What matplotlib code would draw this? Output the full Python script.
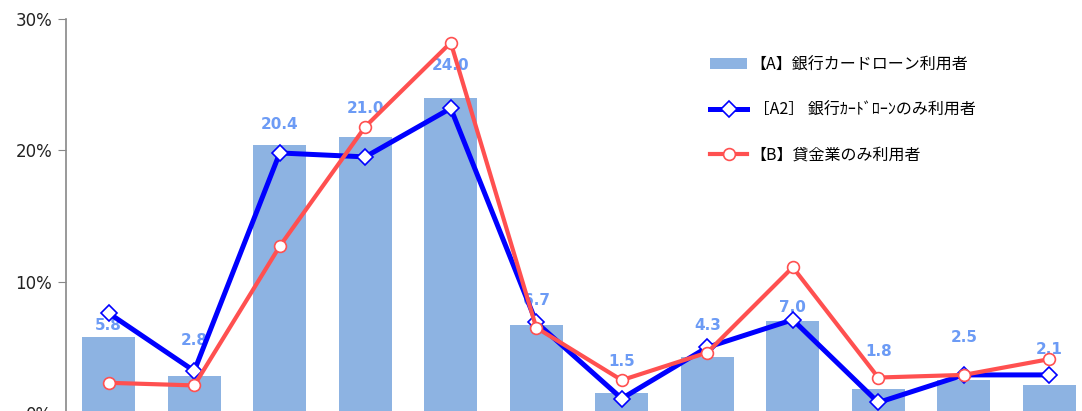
import matplotlib.pyplot as plt
import numpy as np

plt.rcParams['font.family'] = ['DejaVu Sans', 'Noto Sans CJK JP']

# data (percent)
categories = ['1', '2', '3', '4', '5', '6', '7', '8', '9', '10', '11', '12']
bank_card = [5.8, 2.8, 20.4, 21.0, 24.0, 6.7, 1.5, 4.3, 7.0, 1.8, 2.5, 2.1]
bank_only = [7.6, 3.2, 19.8, 19.5, 23.2, 6.9, 1.1, 5.0, 7.1, 0.8, 2.9, 2.9]
lender_only = [2.3, 2.1, 12.7, 21.8, 28.2, 6.5, 2.5, 4.6, 11.1, 2.7, 2.9, 4.1]
# vertical offset of each value label above its bar (pixels)
label_offsets = [11, 36, 21, 29, 32, 25, 32, 31, 14, 38, 43, 36]

names = ['【A】銀行カードローン利用者',
         ' \uff3bA2\uff3d 銀行ｶｰﾄﾞﾛｰﾝのみ利用者',
         '【B】貸金業のみ利用者']

W, H = 1082, 411
fig = plt.figure(figsize=(W / 100, H / 100), dpi=100)
ax = fig.add_axes([66 / W, -2 / H, 1026 / W, 394 / H])

x = np.arange(len(categories))
bars = ax.bar(x, bank_card, width=0.62, color='#8DB3E2', label=names[0], zorder=1)
l1, = ax.plot(x, bank_only, color='#0000FF', lw=3.6, marker='D', ms=8.5, mfc='white',
              mec='#0000FF', mew=1.2, label=names[1], zorder=3)
l2, = ax.plot(x, lender_only, color='#FF5050', lw=3, marker='o', ms=8.5, mfc='white',
              mec='#FF5050', mew=1.2, label=names[2], zorder=4)

for xi, v, off in zip(x, bank_card, label_offsets):
    ax.annotate(f'{v:.1f}', (xi, v), xytext=(0, off), textcoords='offset pixels',
                ha='center', va='center', fontsize=11, fontweight='bold',
                color='#6C9BF5', zorder=2)

ax.set_xlim(-0.5, 11.5)
ax.set_ylim(0, 30)
ax.set_yticks([0, 10, 20, 30])
ax.set_yticklabels(['0%', '10%', '20%', '30%'], fontsize=12, color='#222222')
ax.set_xticks([])
for s in ['top', 'right', 'bottom']:
    ax.spines[s].set_visible(False)
ax.spines['left'].set_color('#888888')
ax.spines['left'].set_linewidth(1.2)
ax.tick_params(axis='y', direction='out', length=6, color='#888888', pad=4)

ax.legend([bars, l1, l2], names, loc='upper left', bbox_to_anchor=(696 / W, 1 - 42 / H),
          bbox_transform=fig.transFigure, frameon=False,
          labelspacing=1.75, handlelength=2.3, handletextpad=0.2,
          prop={'family': ['Noto Sans CJK JP'], 'size': 11.5})

fig.savefig('out.png', dpi=100)
